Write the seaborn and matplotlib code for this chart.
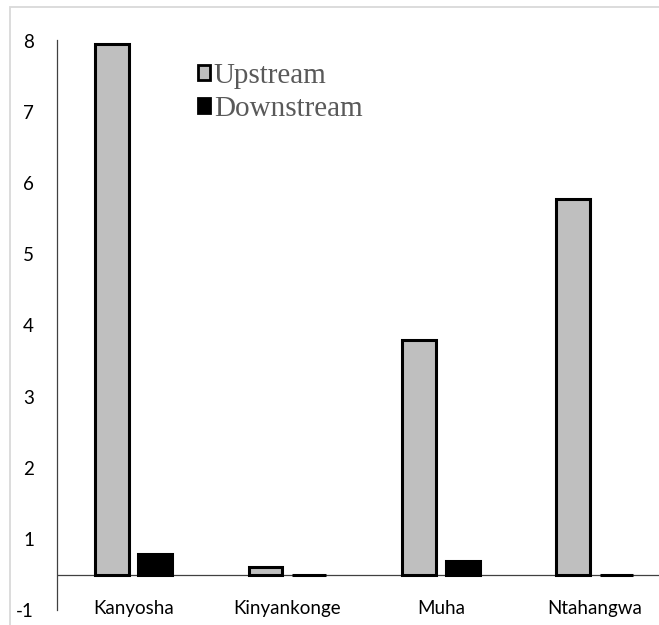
import matplotlib
matplotlib.use("Agg")
import matplotlib.pyplot as plt
from matplotlib.patches import Rectangle
import seaborn as sns
import pandas as pd

# Sampling sites and the two series measured at each
sites = ["Kanyosha", "Kinyankonge", "Muha", "Ntahangwa"]
upstream = [7.95, 0.60, 3.79, 5.77]
downstream = [0.79, 0.50, 0.69, 0.50]
series = ["Upstream", "Downstream"]

# Y axis: tick positions and their printed labels
ytick_values = [0, 1, 2, 3, 4, 5, 6, 7, 8]
ytick_labels = ["-1", "1", "2", "3", "4", "5", "6", "7", "8"]
baseline = 0.5  # the category axis crosses here

df = pd.DataFrame({
    "site": sites * 2,
    "series": [series[0]] * len(sites) + [series[1]] * len(sites),
    "value": upstream + downstream,
})
df["height"] = df["value"] - baseline

sns.set_theme(style="white")
plt.rcParams["font.family"] = ["Lato", "DejaVu Sans"]

fig = plt.figure(figsize=(6.59, 6.25), dpi=100)
ax = fig.add_axes([57 / 659, 14.9 / 625, 602 / 659, 570.1 / 625])

colors = {"Upstream": "#bfbfbf", "Downstream": "#000000"}
sns.barplot(data=df, x="site", y="height", hue="series", order=sites,
            hue_order=series, palette=colors, width=0.565, gap=0.22,
            bottom=baseline, edgecolor="black", linewidth=2.2,
            legend=False, ax=ax, saturation=1)

ax.axhline(baseline, color="#404040", lw=0.9, zorder=0.5)
ax.set_xlim(-0.4976, 3.418)
ax.set_ylim(0, 8.01)
ax.set_yticks(ytick_values)
ax.set_yticklabels(ytick_labels)
ax.set_xlabel("")
ax.set_ylabel("")

for side in ["top", "right", "bottom"]:
    ax.spines[side].set_visible(False)
ax.spines["left"].set_color("#404040")
ax.spines["left"].set_linewidth(0.9)
ax.tick_params(axis="y", length=0, pad=16.5, labelsize=13.5, labelcolor="#000000")
ax.tick_params(axis="x", length=0, pad=-7, labelsize=13.5, labelcolor="#000000")

handles = [Rectangle((0, 0), 1, 1, facecolor=colors[s], edgecolor="black", linewidth=2.0)
           for s in series]
leg = fig.legend(handles, series, loc="upper left",
                 bbox_to_anchor=(198 / 659, 1 - 63 / 625),
                 frameon=False, handlelength=0.42, handleheight=0.42,
                 handletextpad=0.12, labelspacing=0.25, borderaxespad=0,
                 borderpad=0,
                 prop={"family": "Liberation Serif", "size": 21})
for t in leg.get_texts():
    t.set_color("#595959")

# Light outline around the chart area
fig.patches.append(Rectangle((10 / 659, -0.1), 1.2, 1 - 7 / 625 + 0.1,
                             transform=fig.transFigure, fill=False,
                             edgecolor="#d9d9d9", linewidth=1.3, zorder=-1))

fig.savefig("out.png", dpi=100)
